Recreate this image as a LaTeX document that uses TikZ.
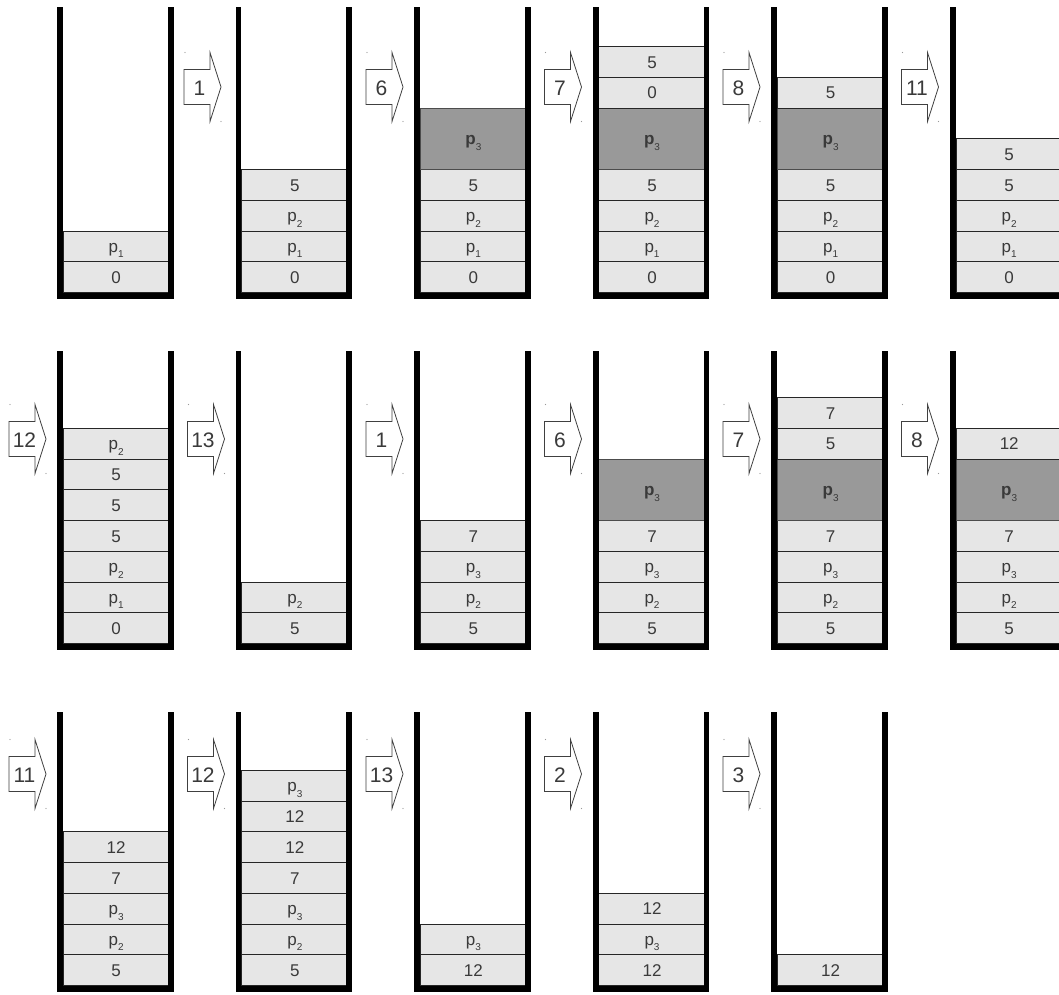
\documentclass[tikz,border=0pt]{standalone}
\usepackage{fontspec}
\setmainfont{Liberation Sans}
\definecolor{cellfill}{HTML}{E6E6E6}
\definecolor{darkfill}{HTML}{999999}
\definecolor{txt}{HTML}{3A3A3A}
\newcommand\pp[1]{p\raisebox{-0.32em}{\fontsize{10}{10}\selectfont #1}}
\newcommand\ppb[1]{\textbf{p}\raisebox{-0.32em}{\fontsize{10}{10}\selectfont #1}}
\tikzset{
  cellbase/.style={draw=black!85, line width=0.9pt, minimum width=106.5pt, inner sep=0pt,
    anchor=south west, text height=12.2pt, text depth=0pt, text=txt, font=\fontsize{17}{17}\selectfont},
  lc/.style={cellbase, fill=cellfill, minimum height=30.75pt},
  dc/.style={cellbase, fill=darkfill, minimum height=61.5pt, draw=black!70},
  wall/.style={line width=5.8pt, line join=miter, draw=black},
  blockarr/.style={draw=black!75, line width=0.8pt, fill=white},
  alabel/.style={inner sep=0pt, text height=15pt, text depth=0pt, text=txt, font=\fontsize{21}{21}\selectfont},
  dotmark/.style={fill=black!40, draw=none},
}
% stack: name, column, top y, inner bottom y, cells
\newcommand\mkstack[5]{%
  \pgfmathsetmacro\xl{57+178.6*#2}%
  \xdef\ycur{#4}%
  \foreach \ty/\hn/\tx [count=\i] in {#5}{%
    \node[\ty] (#1c\i) at (\xl+5.5,\ycur) {\tx};
    \pgfmathsetmacro\ynew{\ycur-\hn*30.75}%
    \xdef\ycur{\ynew}%
  }%
  \draw[wall] (\xl+2.9,#3) -- (\xl+2.9,#4+3) -- (\xl+113.6,#4+3) -- (\xl+113.6,#3);
}
% block arrow: name, left x, centre y, label
\newcommand\mkarrow[4]{%
  \draw[blockarr] (#2,#3-17.5) -- (#2+26,#3-17.5) -- (#2+26,#3-34.5) -- (#2+37,#3)
    -- (#2+26,#3+34.5) -- (#2+26,#3+17.5) -- (#2,#3+17.5) -- cycle;
  \node[alabel] (#1) at (#2+15.5,#3+1) {#4};
  \fill[dotmark] (#2+1,#3-34.5) circle (0.6pt);
  \fill[dotmark] (#2+37,#3+34.5) circle (0.6pt);
}
\begin{document}
\begin{tikzpicture}[x=1pt,y=-1pt]
\clip (0,0) rectangle (1059,994);
\fill[white] (0,0) rectangle (1059,994);
% ---- row 1
\mkstack{a0}{0}{7}{293}{lc/1/0, lc/1/{\pp1}}
\mkstack{a1}{1}{7}{293}{lc/1/0, lc/1/{\pp1}, lc/1/{\pp2}, lc/1/5}
\mkstack{a2}{2}{7}{293}{lc/1/0, lc/1/{\pp1}, lc/1/{\pp2}, lc/1/5, dc/2/{\ppb3}}
\mkstack{a3}{3}{7}{293}{lc/1/0, lc/1/{\pp1}, lc/1/{\pp2}, lc/1/5, dc/2/{\ppb3}, lc/1/0, lc/1/5}
\mkstack{a4}{4}{7}{293}{lc/1/0, lc/1/{\pp1}, lc/1/{\pp2}, lc/1/5, dc/2/{\ppb3}, lc/1/5}
\mkstack{a5}{5}{7}{293}{lc/1/0, lc/1/{\pp1}, lc/1/{\pp2}, lc/1/5, lc/1/5}
\mkarrow{r1a1}{184}{87}{1}
\mkarrow{r1a2}{366}{87}{6}
\mkarrow{r1a3}{544.5}{87}{7}
\mkarrow{r1a4}{723}{87}{8}
\mkarrow{r1a5}{901.5}{87}{11}
% ---- row 2
\mkstack{b0}{0}{351}{644}{lc/1/0, lc/1/{\pp1}, lc/1/{\pp2}, lc/1/5, lc/1/5, lc/1/5, lc/1/{\pp2}}
\mkstack{b1}{1}{351}{644}{lc/1/5, lc/1/{\pp2}}
\mkstack{b2}{2}{351}{644}{lc/1/5, lc/1/{\pp2}, lc/1/{\pp3}, lc/1/7}
\mkstack{b3}{3}{351}{644}{lc/1/5, lc/1/{\pp2}, lc/1/{\pp3}, lc/1/7, dc/2/{\ppb3}}
\mkstack{b4}{4}{351}{644}{lc/1/5, lc/1/{\pp2}, lc/1/{\pp3}, lc/1/7, dc/2/{\ppb3}, lc/1/5, lc/1/7}
\mkstack{b5}{5}{351}{644}{lc/1/5, lc/1/{\pp2}, lc/1/{\pp3}, lc/1/7, dc/2/{\ppb3}, lc/1/12}
\mkarrow{r2a0}{9}{439}{12}
\mkarrow{r2a1}{187.5}{439}{13}
\mkarrow{r2a2}{366}{439}{1}
\mkarrow{r2a3}{544.5}{439}{6}
\mkarrow{r2a4}{723}{439}{7}
\mkarrow{r2a5}{901.5}{439}{8}
% ---- row 3
\mkstack{c0}{0}{712}{986}{lc/1/5, lc/1/{\pp2}, lc/1/{\pp3}, lc/1/7, lc/1/12}
\mkstack{c1}{1}{712}{986}{lc/1/5, lc/1/{\pp2}, lc/1/{\pp3}, lc/1/7, lc/1/12, lc/1/12, lc/1/{\pp3}}
\mkstack{c2}{2}{712}{986}{lc/1/12, lc/1/{\pp3}}
\mkstack{c3}{3}{712}{986}{lc/1/12, lc/1/{\pp3}, lc/1/12}
\mkstack{c4}{4}{712}{986}{lc/1/12}
\mkarrow{r3a0}{9}{774}{11}
\mkarrow{r3a1}{187.5}{774}{12}
\mkarrow{r3a2}{366}{774}{13}
\mkarrow{r3a3}{544.5}{774}{2}
\mkarrow{r3a4}{723}{774}{3}
\end{tikzpicture}
\end{document}
